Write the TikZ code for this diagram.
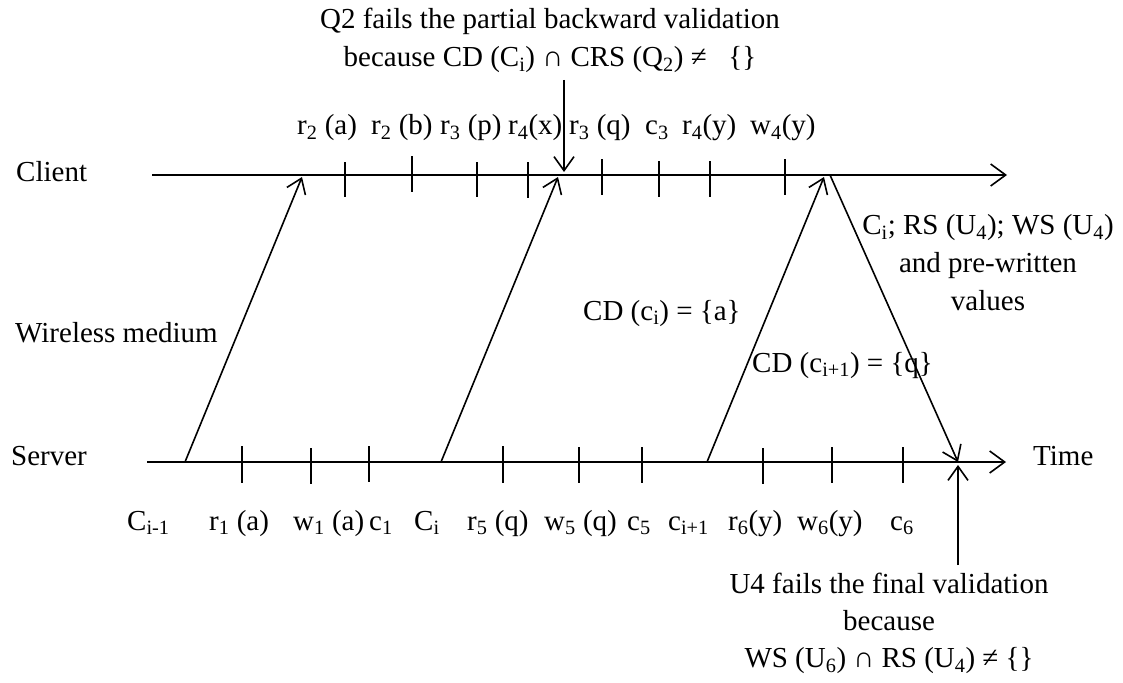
\documentclass[tikz,border=0pt]{standalone}
\usepackage{fontspec}
\setmainfont{Liberation Serif}
\usetikzlibrary{arrows.meta}
\newcommand{\sbs}[1]{\textsubscript{#1}}
\begin{document}
\begin{tikzpicture}[x=1pt,y=-1pt,
    tlAx/.style={-{Straight Barb[length=15pt,width=22pt]},line width=1.6pt},
    tlMsg/.style={-{Straight Barb[length=14pt,width=20pt]},line width=1.6pt},
    tlTick/.style={line width=1.6pt},
    tlLbl/.style={anchor=base west,inner sep=0pt,font=\fontsize{29}{36}\selectfont},
    tlNote/.style={align=center,anchor=north,inner sep=0pt,font=\fontsize{29}{38}\selectfont},
]
\useasboundingbox (0,0) rectangle (1123,682);
% time lines
\coordinate (cliStart) at (152,175);
\coordinate (cliEnd) at (1007,175);
\coordinate (srvStart) at (147,462);
\coordinate (srvEnd) at (1006,462);
\draw[tlAx] (cliStart) -- (cliEnd);
\draw[tlAx] (srvStart) -- (srvEnd);
\node[tlLbl] (cliName) at (16,181) {Client};
\node[tlLbl] (srvName) at (11,465) {Server};
\node[tlLbl] (medName) at (15,342) {Wireless medium};
\node[tlLbl] (timeName) at (1033,465) {Time};
% client operations
\draw[tlTick] (345,162) -- (345,197);
\draw[tlTick] (412,156) -- (412,192);
\draw[tlTick] (477,162) -- (477,197);
\draw[tlTick] (528,162) -- (528,198);
\draw[tlTick] (602,159) -- (602,195);
\draw[tlTick] (659,161) -- (659,197);
\draw[tlTick] (710,161) -- (710,197);
\draw[tlTick] (785,159) -- (785,195);
\node[tlLbl] (opR2a) at (297,135) {r\sbs{2} (a)};
\node[tlLbl] (opR2b) at (371,135) {r\sbs{2} (b)};
\node[tlLbl] (opR3p) at (440,135) {r\sbs{3} (p)};
\node[tlLbl] (opR4x) at (508,135) {r\sbs{4}(x)};
\node[tlLbl] (opR3q) at (569,135) {r\sbs{3} (q)};
\node[tlLbl] (opC3) at (645,135) {c\sbs{3}};
\node[tlLbl] (opR4y) at (682,135) {r\sbs{4}(y)};
\node[tlLbl] (opW4y) at (750,135) {w\sbs{4}(y)};
% server operations
\draw[tlTick] (242,446) -- (242,483);
\draw[tlTick] (311,448) -- (311,484);
\draw[tlTick] (369,446) -- (369,482);
\draw[tlTick] (503,446) -- (503,483);
\draw[tlTick] (579,447) -- (579,483);
\draw[tlTick] (642,447) -- (642,483);
\draw[tlTick] (763,448) -- (763,484);
\draw[tlTick] (832,447) -- (832,483);
\draw[tlTick] (903,447) -- (903,483);
\node[tlLbl] (opCim) at (127,530) {C\sbs{i-1}};
\node[tlLbl] (opR1a) at (209,530) {r\sbs{1} (a)};
\node[tlLbl] (opW1a) at (293,530) {w\sbs{1} (a)};
\node[tlLbl] (opC1) at (369,530) {c\sbs{1}};
\node[tlLbl] (opCi) at (414,530) {C\sbs{i}};
\node[tlLbl] (opR5q) at (467,530) {r\sbs{5} (q)};
\node[tlLbl] (opW5q) at (544,530) {w\sbs{5} (q)};
\node[tlLbl] (opC5) at (627,530) {c\sbs{5}};
\node[tlLbl] (opCip) at (668,530) {c\sbs{i+1}};
\node[tlLbl] (opR6y) at (728,530) {r\sbs{6}(y)};
\node[tlLbl] (opW6y) at (797,530) {w\sbs{6}(y)};
\node[tlLbl] (opC6) at (890,530) {c\sbs{6}};
% broadcasts and the commit message
\coordinate (bcOut0) at (185,462);
\coordinate (bcIn0) at (302,177);
\coordinate (bcOut1) at (441,462);
\coordinate (bcIn1) at (558,177);
\coordinate (bcOut2) at (707,462);
\coordinate (bcIn2) at (824,177);
\coordinate (cmOut) at (830,175);
\coordinate (cmIn) at (958,462);
\draw[tlMsg] (bcOut0) -- (bcIn0);
\draw[tlMsg] (bcOut1) -- (bcIn1);
\draw[tlMsg] (bcOut2) -- (bcIn2);
\draw[tlMsg] (cmOut) -- (cmIn);
\node[tlLbl] (cdCi) at (583,320) {CD (c\sbs{i}) = \{a\}};
\node[tlLbl] (cdCip) at (752,372) {CD (c\sbs{i+1}) = \{q\}};
\node[tlNote] (cmNote) at (988,214) {C\sbs{i}; RS (U\sbs{4}); WS (U\sbs{4})\\and pre-written\\values};
% validation notes
\node[tlNote] (q2Note) at (550,8) {Q2 fails the partial backward validation\\because CD (C\sbs{i}) ∩ CRS (Q\sbs{2}) ≠\ \ \ \{\}};
\coordinate (q2From) at (564,80);
\coordinate (q2To) at (564,172);
\draw[tlMsg] (q2From) -- (q2To);
\node[tlNote,font=\fontsize{29}{37}\selectfont] (u4Note) at (889,573) {U4 fails the final validation\\because\\WS (U\sbs{6}) ∩ RS (U\sbs{4}) ≠ \{\}};
\coordinate (u4From) at (958,565);
\coordinate (u4To) at (958,465);
\draw[tlMsg] (u4From) -- (u4To);
\end{tikzpicture}
\end{document}
